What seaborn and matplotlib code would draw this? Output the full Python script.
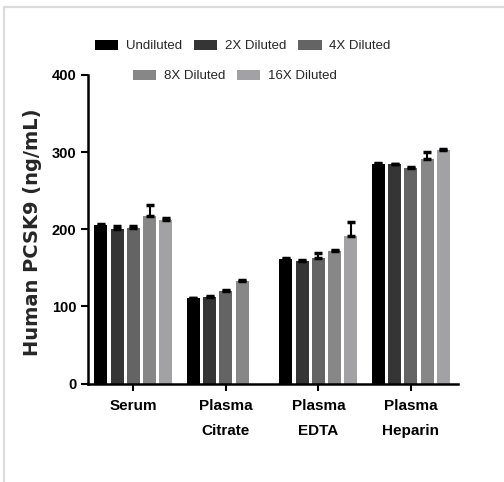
import numpy as np
import pandas as pd
import matplotlib
matplotlib.use("Agg")
import matplotlib.pyplot as plt
import seaborn as sns
from matplotlib.patches import Patch
from matplotlib.lines import Line2D
from matplotlib.container import BarContainer

categories = ["Serum", "Plasma\nCitrate", "Plasma\nEDTA", "Plasma\nHeparin"]
dilutions = ["Undiluted", "2X Diluted", "4X Diluted", "8X Diluted", "16X Diluted"]
undiluted = [206, 111, 162, 284]
diluted_2x = [200, 112, 159, 284.5]
diluted_4x = [201.5, 120.5, 163, 279.5]
diluted_8x = [217, 133, 171.5, 291]
diluted_16x = [212, np.nan, 191, 302.5]
err_undiluted = [1, 0.5, 0.5, 1.5]
err_2x = [4, 1, 0.5, 0.5]
err_4x = [2.5, 0.5, 6.5, 1]
err_8x = [14, 1.5, 1, 9]
err_16x = [2.5, 0, 18, 1]
colors = ["#000000", "#353535", "#646464", "#878787", "#a2a2a5"]
yticks = [0, 100, 200, 300, 400]

series = [undiluted, diluted_2x, diluted_4x, diluted_8x, diluted_16x]
errs = [err_undiluted, err_2x, err_4x, err_8x, err_16x]
rows = []
for d, vals, ee in zip(dilutions, series, errs):
    for c, v, e in zip(categories, vals, ee):
        if not np.isnan(v):
            rows.append({"sample": c, "dilution": d, "value": v, "err": e})
df = pd.DataFrame(rows)

sns.set_style("ticks")
plt.rcParams["font.family"] = ["Liberation Sans", "DejaVu Sans"]

fig = plt.figure(figsize=(5.04, 4.82), dpi=100)
ax = fig.add_axes([88 / 504, 1 - 383.5 / 482, 370 / 504, 308.5 / 482])

sns.barplot(data=df, x="sample", y="value", hue="dilution", order=categories,
            hue_order=dilutions, palette=colors, width=0.88, gap=0.2,
            errorbar=None, saturation=1, legend=False, ax=ax, linewidth=0)

errmap = {(r["sample"], r["dilution"]): r["err"] for _, r in df.iterrows()}
bar_containers = [c for c in ax.containers if isinstance(c, BarContainer)]
for i, cont in enumerate(bar_containers):
    d = dilutions[i]
    for bar in cont:
        h = bar.get_height()
        if np.isnan(h):
            continue
        xc = bar.get_x() + bar.get_width() / 2
        ci = int(round(xc))
        e = errmap.get((categories[ci], d), 0)
        ax.errorbar([xc], [h], yerr=[[0], [e]], fmt="none", ecolor="black",
                    elinewidth=1.5, capsize=3, capthick=2.5, zorder=3)

ax.set_xlim(-0.49, 3.51)
ax.set_ylim(0, 400)
ax.set_yticks(yticks)
ax.set_xlabel("")
ax.set_ylabel("Human PCSK9 (ng/mL)", fontsize=14, fontweight="bold",
              family=["DejaVu Sans"])
ax.yaxis.set_label_coords(-46 / 370, 0.49)
sns.despine(ax=ax)
for s in ["left", "bottom"]:
    ax.spines[s].set_linewidth(1.8)
    ax.spines[s].set_color("black")
ax.tick_params(axis="both", width=1.5, length=5, colors="black")
ax.tick_params(axis="x", pad=6)
for lab in ax.get_xticklabels():
    lab.set_fontweight("bold")
    lab.set_fontsize(11)
    lab.set_linespacing(2.05)
    lab.set_verticalalignment("top")
for lab in ax.get_yticklabels():
    lab.set_fontweight("bold")
    lab.set_fontsize(10.5)

h1 = [Patch(facecolor=colors[i], edgecolor="none", label=dilutions[i]) for i in range(3)]
h2 = [Patch(facecolor=colors[i], edgecolor="none", label=dilutions[i]) for i in range(3, 5)]
legkw = dict(loc="center", ncol=3, frameon=False, fontsize=9.5,
             handlelength=1.75, handleheight=0.8, columnspacing=0.9,
             handletextpad=0.6)
leg1 = fig.legend(handles=h1, bbox_to_anchor=(243 / 504, 1 - 46 / 482), **legkw)
legkw["ncol"] = 2
leg2 = fig.legend(handles=h2, bbox_to_anchor=(235 / 504, 1 - 76 / 482), **legkw)

fig.add_artist(Line2D([3.5 / 504, 1], [1 - 6.5 / 482, 1 - 6.5 / 482], color="#dcdcdc", lw=1.6,
                      transform=fig.transFigure))
fig.add_artist(Line2D([3.5 / 504, 3.5 / 504], [0, 1 - 6.5 / 482], color="#dcdcdc", lw=1.6,
                      transform=fig.transFigure))

fig.savefig("out.png", dpi=100)
